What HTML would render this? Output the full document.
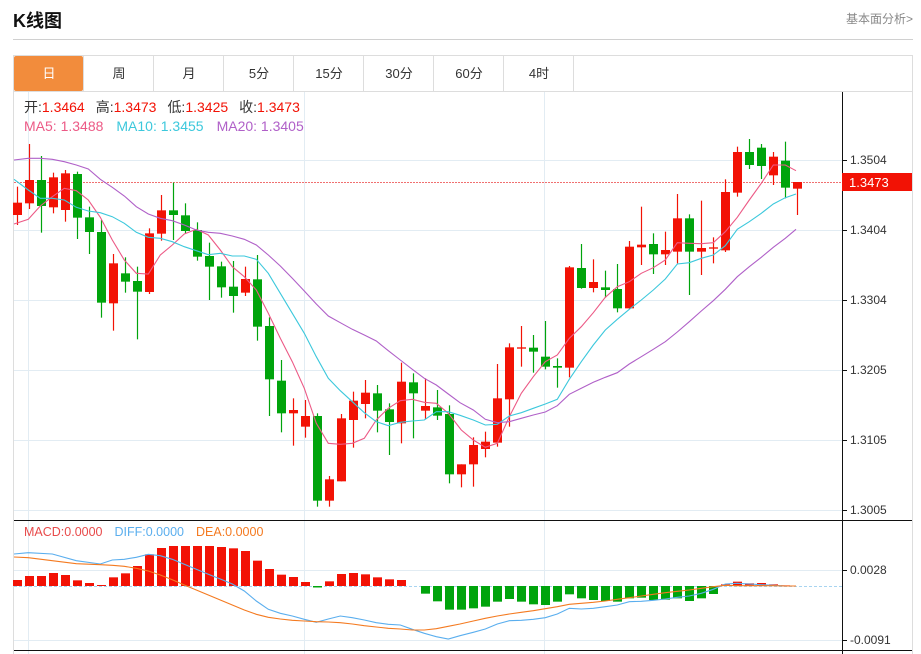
<!DOCTYPE html>
<html><head><meta charset="utf-8"><style>
html,body{margin:0;padding:0;background:#fff;width:921px;height:654px;overflow:hidden;font-family:"Liberation Sans","Noto Sans CJK SC",sans-serif}
#t{position:absolute;left:13px;top:7px;font-size:18px;font-weight:bold;color:#111}
#r{position:absolute;left:846px;top:10px;font-size:12px;color:#888}
#hl{position:absolute;left:13px;top:39px;width:900px;height:1px;background:#d0d0d0}
svg{position:absolute;left:0;top:0}
</style></head><body>
<div id="t">K线图</div><div id="r">基本面分析&gt;</div><div id="hl"></div>
<svg id="s" width="921" height="654" xmlns="http://www.w3.org/2000/svg" font-family="Liberation Sans, Noto Sans CJK SC, sans-serif"></svg>
<script>
var s=document.getElementById('s'),h='';
function L(x1,y1,x2,y2,c,w,d){h+='<line x1="'+x1+'" y1="'+y1+'" x2="'+x2+'" y2="'+y2+'" stroke="'+c+'" stroke-width="'+(w||1)+'"'+(d?' stroke-dasharray="'+d+'"':'')+'/>';}
function R(x,y,w,hh,c){h+='<rect x="'+x+'" y="'+y+'" width="'+w+'" height="'+hh+'" fill="'+c+'"/>';}
function T(x,y,t,c,sz,a){h+='<text x="'+x+'" y="'+y+'" fill="'+c+'" font-size="'+(sz||12)+'"'+(a?' text-anchor="'+a+'"':'')+'>'+t+'</text>';}
h+='<rect x="13.5" y="55.5" width="899" height="36" fill="none" stroke="#ddd"/>';
var tabs=['日','周','月','5分','15分','30分','60分','4时'];
for(var i=0;i<8;i++){var x=14+i*70;if(i==0)h+='<rect x="14" y="56" width="69" height="35" rx="2" fill="#f28c3c"/>';
L(x+69.5,56,x+69.5,91,'#ddd');T(x+35,78,tabs[i],i==0?'#fff':'#333',13,'middle');}
L(13.5,91,13.5,654,'#ddd');L(912.5,91,912.5,654,'#ddd');
var gy=[160,230,300,370,440,510];gy.forEach(function(y){L(14,y+.5,842,y+.5,'#e2ecf3');});
[570,640].forEach(function(y){L(14,y+.5,842,y+.5,'#e2ecf3');});
[28,304,544].forEach(function(x){L(x+.5,92,x+.5,654,'#e2ecf3');});
L(14,520.5,912,520.5,'#111');L(14,650.5,912,650.5,'#111');L(842.5,92,842.5,654,'#111');
var lab=['1.3504','1.3404','1.3304','1.3205','1.3105','1.3005'];
gy.forEach(function(y,i){L(842,y+.5,847,y+.5,'#111');T(850,y+4,lab[i],'#333',12);});
L(842,570.5,847,570.5,'#111');T(850,574,'0.0028','#333',12);
L(842,640.5,847,640.5,'#111');T(850,644,'-0.0091','#333',12);
var C=[['r',218,255,170,285],['r',150,220,42,237],['g',150,228,78,308],['r',142,232,128,250],['r',130,240,120,275],['g',132,263,125,327],['g',262,306,230,372],['g',306,518,270,563],['r',400,520,372,602],['g',430,455,382,488],['g',453,485,410,628],['r',310,486,295,492],['r',241,311,195,332],['g',241,255,158,330],['g',256,303,220,310],['g',300,380,277,392],['g',378,410,338,510],['g',409,472,395,503],['g',470,498,393,548],['r',447,488,410,498],['g',448,590,375,632],['g',588,748,562,858],['g',752,850,690,907],['r',840,850,805,947],['r',858,890,810,923],['g',858,1112,850,1130],['r',1048,1112,1038,1130],['r',865,1054,852,1054],['r',812,870,785,953],['r',788,822,750,865],['g',790,842,765,907],['g',838,876,820,975],['r',755,880,698,940],['g',757,790,730,925],['r',828,842,745,868],['g',832,857,780,870],['g',852,1033,826,1060],
['r',1003,1033,1003,1072],['r',945,1003,922,1070],['r',935,957,905,982],['r',805,938,702,950],['r',652,808,640,890],['r',652,656,588,710],['g',653,665,615,728],['g',680,710,573,718],['g',708,713,685,773],['r',412,713,408,742],['g',414,474,342,476],['r',456,474,388,487],['g',472,480,422,503],['g',477,535,402,547],['r',350,535,333,537],['r',344,352,230,405],['g',342,373,310,432],['r',360,373,305,405],['r',265,365,192,400],['g',265,365,253,495],['r',354,365,212,435],['r',352,356,322,400],['r',186,361,148,366],['r',66,188,50,200],['g',66,105,27,117],['g',53,108,42,147],['r',80,136,66,165],['g',92,173,35,205],['r',156,176,156,255]];
function py(z){return 130+z/3;}
L(14,182.5,842,182.5,'#f07070',1,'2,1');
C.forEach(function(c,i){var x=17.5+12*i,col=c[0]=='r'?'#f21205':'#00a40c';
L(x,py(c[3]),x,py(c[4]),col,1.2);var t=py(c[1]),b=py(c[2]);R(x-4.5,t,9,Math.max(b-t,1.3),col);});
function poly(a,b,col,yb){var p=[];a.forEach(function(q){p.push((q[0]/3).toFixed(1)+','+(yb+q[1]/3).toFixed(1));});
b.forEach(function(q){p.push((460+q[0]/3).toFixed(1)+','+(yb+q[1]/3).toFixed(1));});
h+='<polyline points="'+p.join(' ')+'" fill="none" stroke="'+col+'" stroke-width="1.1"/>';}
poly([[42,282],[85,268],[121,228],[157,200],[193,175],[229,182],[265,210],[301,262],[337,330],[373,390],[409,430],[445,432],[481,375],[517,345],[553,312],[589,298],[625,315],[661,360],[697,410],[733,440],[769,480],[805,550],[841,625],[877,695],[913,775],[949,880],[985,940],[1021,943],[1057,940],[1093,925],[1129,870],[1165,835],[1201,812],[1237,808],[1273,817],[1309,820],[1345,850]],
[[4,900],[40,930],[76,952],[112,940],[148,860],[184,790],[220,740],[256,695],[292,675],[328,625],[364,590],[400,548],[436,502],[472,470],[508,455],[544,430],[580,413],[616,390],[652,338],[688,340],[724,341],[760,338],[796,305],[832,262],[868,210],[904,160],[940,105],[976,105],[1008,122]],'#ec5a86',130);
poly([[42,148],[85,180],[121,205],[157,205],[193,210],[229,232],[265,243],[301,248],[337,260],[373,280],[409,307],[445,322],[481,325],[517,335],[553,350],[589,362],[625,374],[661,370],[697,378],[733,378],[769,388],[805,430],[841,490],[877,550],[913,610],[949,680],[985,745],[1021,782],[1057,815],[1093,848],[1129,875],[1165,887],[1201,877],[1237,873],[1273,870],[1309,845],[1345,845]],
[[0,856],[40,870],[76,885],[112,883],[148,858],[184,848],[220,835],[256,822],[292,808],[328,748],[364,695],[400,645],[436,600],[472,568],[508,538],[544,510],[580,480],[616,447],[652,402],[688,398],[724,385],[760,375],[796,347],[832,298],[868,275],[904,250],[940,222],[976,203],[1008,192]],'#3cc8dc',130);
poly([[42,90],[85,85],[121,85],[157,88],[193,95],[229,105],[265,117],[301,148],[337,172],[373,198],[409,230],[445,252],[481,265],[517,272],[553,285],[589,300],[625,307],[661,310],[697,318],[733,328],[769,345],[805,375],[841,408],[877,445],[913,483],[949,522],[985,558],[1021,578],[1057,598],[1093,615],[1129,633],[1165,662],[1201,690],[1237,718],[1273,745],[1309,765],[1345,792]],
[[0,818],[40,840],[76,868],[112,878],[148,875],[184,865],[220,855],[256,846],[292,827],[328,793],[364,775],[400,757],[436,742],[472,728],[508,702],[544,680],[580,658],[616,635],[652,606],[688,575],[724,543],[760,512],[796,478],[832,440],[868,410],[904,382],[940,352],[976,325],[1008,298]],'#b060c8',130);
R(842,173,70,18,'#f21205');T(849,187,'1.3473','#fff',13);
L(14,586.5,842,586.5,'#a8d4f0',1,'3,2');
var M=[195,183,183,174,180,196,204,210,187,175,153,118,99,93,93,93,93,96,100,108,137,162,179,186,201,218,199,177,174,178,187,193,195,213,236,259,284,284,280,275,260,252,260,268,270,260,238,250,255,258,260,250,248,255,254,250,258,250,237,208,200,205,204,208,211,213];
M.forEach(function(v,i){var x=17.5+12*i,y=515+v/3,z=586;if(Math.abs(y-z)<0.3)return;
if(i<=33||i>=59){if(i==25){R(x-4.5,z,9,1.5,'#00a40c');return;}R(x-4.5,Math.min(y,z),9,Math.abs(z-y),'#f21205');}
else R(x-4.5,z,9,y-z,'#00a40c');});
poly([[42,117],[85,113],[157,117],[229,137],[301,147],[337,135],[373,133],[409,127],[445,118],[481,122],[517,133],[553,148],[589,163],[625,178],[661,192],[697,207],[733,228],[769,258],[805,283],[841,295],[877,303],[913,313],[949,322],[985,312],[1021,303],[1057,308],[1093,315],[1129,323],[1165,328],[1201,330],[1237,343],[1273,355],[1309,365],[1345,372]],
[[0,362],[40,352],[76,342],[112,327],[148,317],[184,316],[220,313],[256,308],[292,297],[328,280],[364,282],[400,280],[436,275],[472,270],[508,260],[544,259],[580,256],[616,252],[652,247],[688,243],[724,235],[760,223],[796,207],[832,205],[868,207],[904,209],[940,211],[976,213],[1008,213]],'#5aaeee',515);
poly([[42,126],[85,128],[157,137],[229,146],[301,149],[337,151],[373,154],[409,160],[445,168],[481,180],[517,194],[553,210],[589,225],[625,240],[661,255],[697,270],[733,285],[769,298],[805,307],[841,312],[877,316],[913,318],[949,320],[985,321],[1021,323],[1057,327],[1093,332],[1129,336],[1165,340],[1201,342],[1237,345],[1273,345],[1309,341],[1345,334]],
[[0,327],[40,318],[76,310],[112,303],[148,297],[184,292],[220,287],[256,281],[292,275],[328,268],[364,265],[400,262],[436,258],[472,253],[508,248],[544,243],[580,238],[616,233],[652,229],[688,225],[724,220],[760,215],[796,211],[832,212],[868,212],[904,212],[940,212],[976,213],[1008,213]],'#f47a20',515);
h+='<text x="24" y="112" font-size="14"><tspan fill="#333">开:</tspan><tspan fill="#f21205">1.3464</tspan><tspan fill="#333" dx="11">高:</tspan><tspan fill="#f21205">1.3473</tspan><tspan fill="#333" dx="11">低:</tspan><tspan fill="#f21205">1.3425</tspan><tspan fill="#333" dx="11">收:</tspan><tspan fill="#f21205">1.3473</tspan></text>';
h+='<text x="24" y="131" font-size="14"><tspan fill="#ec5a86">MA5: 1.3488</tspan><tspan fill="#3cc8dc" dx="13">MA10: 1.3455</tspan><tspan fill="#b060c8" dx="13">MA20: 1.3405</tspan></text>';
h+='<text x="24" y="536" font-size="12.5"><tspan fill="#e84a4a">MACD:0.0000</tspan><tspan fill="#5aaeee" dx="12">DIFF:0.0000</tspan><tspan fill="#f47a20" dx="12">DEA:0.0000</tspan></text>';
s.innerHTML=h;
</script>
</body></html>
